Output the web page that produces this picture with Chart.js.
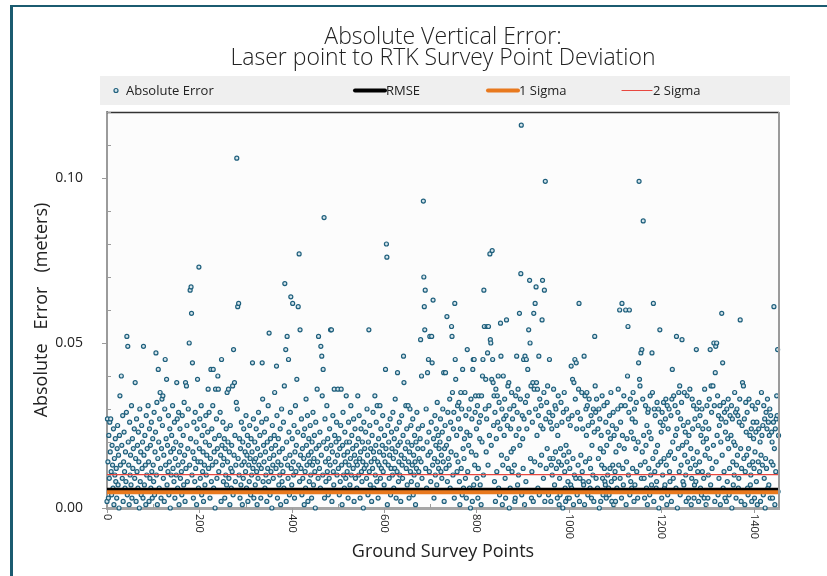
<!DOCTYPE html>
<html>
<head>
<meta charset="utf-8">
<script src="https://cdn.jsdelivr.net/npm/chart.js@4.4.1/dist/chart.umd.min.js"></script>
<style>
  html, body { margin: 0; padding: 0; background: #fff; }
  #wrap { position: relative; width: 827px; height: 576px; overflow: hidden; }
  #frame { position: absolute; left: 10px; top: 5px; right: -10px; bottom: -10px;
           border-left: 3px solid #1b5b70; border-top: 2px solid #1b5b70; }
  canvas { position: absolute; left: 0; top: 0; }
</style>
</head>
<body>
<div id="wrap"><div id="frame"></div><canvas id="chart" width="827" height="576"></canvas></div>
<script>
// ----------------------
// Data (absolute vertical error per ground survey point, in millimetres)
// ----------------------
const errorMm = [
  2, 27, 14, 3, 22, 9, 26, 17, 27, 11, 4, 19, 13, 6, 24, 1, 15, 10, 21, 8,
  12, 3, 18, 25, 7, 16, 0, 22, 34, 13, 5, 40, 19, 9, 28, 2, 14, 23, 11, 6,
  17, 8, 29, 52, 4, 49, 20, 13, 1, 26, 10, 16, 7, 31, 3, 21, 12, 18, 5, 24,
  9, 38, 15, 2, 27, 11, 19, 6, 23, 14, 0, 30, 8, 17, 4, 25, 12, 20, 3, 49,
  16, 7, 22, 13, 1, 28, 10, 18, 5, 31, 14, 2, 24, 9, 19, 6, 26, 11, 3, 21,
  13, 8, 29, 4, 17, 23, 47, 10, 32, 1, 15, 42, 20, 6, 27, 35, 12, 3, 18, 33,
  25, 34, 9, 16, 2, 30, 45, 13, 21, 39, 7, 19, 11, 28, 4, 14, 24, 0, 17, 10,
  22, 5, 31, 12, 18, 8, 26, 3, 15, 20, 10, 38, 27, 6, 13, 29, 1, 17, 24, 9,
  19, 11, 4, 28, 14, 22, 7, 32, 16, 2, 38, 12, 37, 25, 8, 18, 30, 5, 50, 13,
  66, 21, 67, 59, 10, 44, 17, 3, 26, 15, 8, 29, 12, 20, 1, 24, 39, 14, 6, 73,
  18, 27, 9, 14, 31, 4, 22, 11, 17, 2, 25, 13, 7, 20, 28, 10, 16, 5, 23, 36,
  12, 29, 19, 3, 15, 42, 8, 24, 13, 31, 42, 6, 17, 21, 0, 36, 14, 27, 9, 18,
  40, 36, 11, 22, 5, 29, 16, 2, 45, 19, 13, 26, 8, 15, 21, 3, 18, 10, 24, 7,
  35, 14, 20, 36, 9, 17, 1, 25, 12, 6, 19, 11, 37, 4, 48, 16, 38, 22, 8, 13,
  32, 106, 30, 61, 15, 62, 10, 21, 3, 18, 7, 26, 13, 1, 20, 9, 24, 14, 5, 17,
  11, 28, 6, 16, 22, 2, 19, 13, 8, 25, 15, 4, 21, 10, 17, 44, 12, 27, 3, 14,
  20, 7, 15, 24, 11, 1, 18, 9, 29, 13, 5, 22, 16, 3, 12, 26, 44, 33, 8, 19,
  14, 23, 6, 17, 10, 27, 2, 20, 12, 31, 8, 53, 15, 4, 21, 11, 18, 0, 25, 13,
  9, 16, 22, 35, 5, 19, 12, 43, 28, 3, 14, 21, 7, 17, 10, 24, 1, 13, 30, 8,
  18, 11, 26, 6, 37, 68, 15, 48, 2, 20, 52, 13, 9, 45, 23, 4, 16, 29, 64, 12,
  7, 21, 62, 14, 10, 25, 3, 17, 31, 11, 19, 39, 5, 23, 61, 13, 77, 8, 54, 16,
  12, 27, 4, 18, 9, 22, 15, 1, 24, 11, 6, 33, 19, 13, 28, 2, 16, 21, 8, 14,
  25, 10, 17, 3, 20, 13, 29, 7, 15, 22, 11, 0, 26, 18, 5, 36, 14, 9, 52, 19,
  12, 23, 6, 49, 16, 46, 34, 10, 42, 20, 88, 3, 27, 14, 8, 18, 31, 11, 21, 4,
  15, 9, 24, 13, 54, 19, 54, 2, 17, 28, 11, 7, 36, 22, 14, 5, 20, 26, 10, 16,
  36, 12, 21, 4, 18, 8, 25, 36, 13, 1, 19, 29, 10, 16, 6, 23, 14, 9, 34, 20,
  11, 17, 3, 26, 13, 20, 7, 15, 31, 10, 22, 5, 18, 12, 27, 2, 16, 24, 9, 14,
  19, 6, 13, 34, 21, 10, 28, 15, 3, 17, 24, 11, 8, 20, 14, 0, 26, 12, 18, 5,
  23, 13, 9, 30, 16, 4, 20, 54, 11, 25, 7, 18, 14, 2, 22, 12, 29, 17, 6, 15,
  34, 10, 19, 26, 8, 31, 14, 3, 21, 13, 17, 31, 9, 24, 12, 5, 19, 28, 11, 16,
  7, 22, 14, 42, 18, 80, 76, 1, 25, 13, 20, 9, 16, 27, 4, 12, 23, 18, 10, 29,
  15, 6, 21, 12, 33, 17, 3, 24, 11, 41, 19, 8, 14, 26, 10, 20, 2, 16, 28, 13,
  9, 22, 46, 38, 15, 5, 18, 31, 12, 24, 7, 20, 31, 14, 3, 17, 30, 11, 25, 8,
  19, 13, 27, 4, 16, 10, 22, 14, 1, 20, 12, 29, 7, 18, 24, 11, 15, 5, 21, 51,
  14, 40, 9, 25, 18, 93, 70, 61, 54, 66, 12, 30, 6, 20, 41, 16, 45, 23, 11, 52,
  17, 8, 26, 52, 44, 13, 63, 21, 3, 15, 28, 10, 19, 24, 7, 32, 14, 22, 12, 18,
  5, 20, 27, 11, 16, 9, 23, 30, 14, 41, 2, 18, 25, 41, 12, 19, 58, 8, 29, 15,
  21, 13, 33, 6, 26, 17, 55, 52, 35, 10, 24, 29, 3, 62, 45, 39, 16, 22, 11, 31,
  14, 27, 32, 8, 1, 24, 35, 12, 30, 4, 42, 18, 6, 15, 21, 35, 9, 28, 3, 23,
  48, 11, 5, 19, 30, 6, 22, 0, 33, 17, 27, 2, 42, 45, 7, 45, 13, 29, 34, 16,
  24, 9, 31, 3, 12, 34, 26, 21, 7, 28, 1, 34, 20, 40, 45, 10, 66, 55, 5, 30,
  39, 17, 27, 55, 47, 13, 55, 31, 22, 77, 51, 50, 19, 39, 78, 45, 38, 25, 34, 8,
  29, 2, 36, 21, 11, 34, 26, 40, 6, 32, 4, 24, 56, 46, 16, 30, 1, 13, 40, 27,
  22, 33, 9, 3, 28, 57, 15, 25, 37, 12, 38, 0, 30, 6, 24, 17, 35, 11, 27, 5,
  18, 31, 13, 2, 3, 34, 22, 46, 29, 7, 36, 10, 24, 59, 19, 33, 71, 116, 4, 28,
  21, 12, 45, 27, 1, 46, 32, 8, 45, 24, 34, 42, 5, 54, 29, 69, 50, 15, 37, 3,
  11, 26, 38, 2, 59, 36, 14, 62, 30, 67, 38, 22, 36, 6, 28, 46, 4, 33, 13, 25,
  31, 16, 57, 69, 24, 9, 35, 66, 2, 99, 27, 12, 32, 18, 37, 5, 4, 29, 45, 15,
  26, 2, 13, 24, 10, 28, 15, 36, 5, 7, 31, 17, 30, 12, 25, 3, 22, 34, 14, 1,
  9, 4, 18, 32, 13, 26, 5, 0, 29, 16, 35, 11, 6, 2, 19, 30, 14, 3, 8, 27,
  17, 3, 12, 25, 7, 43, 6, 28, 39, 15, 1, 38, 10, 45, 33, 9, 44, 24, 4, 29,
  13, 36, 62, 2, 9, 27, 16, 5, 35, 11, 24, 8, 7, 46, 1, 34, 14, 30, 22, 35,
  31, 4, 25, 8, 33, 15, 6, 12, 28, 3, 19, 26, 10, 30, 2, 23, 52, 37, 29, 9,
  33, 5, 6, 24, 15, 30, 0, 27, 18, 2, 22, 13, 34, 9, 4, 17, 31, 12, 8, 7,
  26, 3, 19, 32, 10, 23, 6, 4, 28, 12, 21, 35, 8, 2, 25, 13, 29, 1, 22, 9,
  11, 2, 17, 24, 6, 5, 30, 36, 13, 19, 60, 9, 26, 31, 3, 62, 22, 12, 7, 34,
  18, 5, 31, 60, 1, 14, 21, 40, 55, 10, 29, 60, 4, 33, 8, 23, 6, 27, 12, 35,
  21, 2, 30, 7, 26, 18, 32, 11, 5, 3, 20, 44, 99, 39, 37, 13, 47, 9, 48, 17,
  33, 87, 22, 9, 3, 14, 31, 19, 6, 25, 1, 29, 30, 12, 23, 4, 34, 10, 21, 7,
  47, 35, 15, 62, 2, 30, 11, 28, 17, 6, 8, 32, 19, 13, 30, 0, 5, 54, 26, 14,
  23, 3, 29, 10, 25, 32, 15, 6, 7, 27, 33, 13, 1, 31, 4, 24, 16, 30, 11, 8,
  17, 28, 2, 33, 42, 20, 9, 34, 5, 15, 31, 22, 6, 52, 24, 0, 29, 18, 35, 11,
  37, 4, 27, 13, 32, 51, 19, 8, 25, 7, 35, 16, 23, 10, 2, 20, 34, 14, 26, 3,
  22, 5, 36, 12, 18, 1, 9, 33, 24, 15, 31, 3, 7, 27, 13, 8, 48, 30, 17, 11,
  25, 2, 32, 14, 28, 6, 22, 4, 30, 11, 24, 20, 9, 3, 36, 16, 26, 1, 21, 31,
  18, 3, 10, 24, 33, 15, 48, 7, 37, 29, 12, 5, 37, 19, 50, 31, 2, 41, 49, 14,
  50, 22, 34, 4, 28, 9, 25, 31, 1, 20, 27, 59, 16, 44, 6, 32, 11, 29, 3, 23,
  26, 2, 30, 8, 21, 33, 18, 4, 12, 28, 5, 22, 31, 0, 27, 14, 7, 20, 10, 35,
  19, 29, 3, 13, 30, 16, 28, 6, 9, 26, 33, 57, 18, 2, 12, 25, 38, 5, 37, 15,
  27, 1, 11, 32, 23, 16, 29, 6, 4, 18, 33, 13, 22, 7, 10, 24, 2, 31, 14, 26,
  21, 12, 3, 17, 30, 23, 8, 26, 1, 32, 14, 24, 5, 11, 20, 2, 16, 35, 22, 13,
  25, 4, 31, 9, 27, 0, 15, 29, 12, 24, 33, 6, 26, 7, 22, 30, 3, 28, 14, 23,
  20, 3, 13, 26, 61, 18, 1, 24, 11, 27, 34, 28, 48, 5, 22
];

const seriesNames = ["Absolute Error", "RMSE", "1 Sigma", "2 Sigma"];
const statValues = [0.0055, 0.0048, 0.0101];   // RMSE, 1 Sigma, 2 Sigma (meters)
const yTickLabels = [0, 0.05, 0.10];
const xTickLabels = [0, 200, 400, 600, 800, 1000, 1200, 1400];
const xMax = 1455;
const yMax = 0.12;

const FONT = '"Open Sans", "DejaVu Sans", sans-serif';
Chart.defaults.font.family = FONT;
Chart.defaults.color = "#222";

// ----------------------
// Helper plugin: plot background, frame lines, ticks, rotated x labels, legend strip
// ----------------------
const decorations = {
  id: "decorations",
  beforeDraw(chart) {
    const { ctx, chartArea: a } = chart;
    ctx.save();
    ctx.fillStyle = "#fcfcfc";
    ctx.fillRect(a.left, a.top, a.right - a.left, a.bottom - a.top);
    // legend strip
    ctx.fillStyle = "#efefef";
    ctx.fillRect(a.left - 7, a.top - 36, (a.right - a.left) + 18, 29);
    ctx.restore();
  },
  afterDraw(chart) {
    const { ctx, chartArea: a, scales: { x, y } } = chart;
    ctx.save();

    // top + right frame
    ctx.strokeStyle = "#333";
    ctx.lineWidth = 1.5;
    ctx.beginPath();
    ctx.moveTo(a.left, a.top + 0.5); ctx.lineTo(a.right, a.top + 0.5);
    ctx.stroke();
    ctx.strokeStyle = "#9b9b9b";
    ctx.lineWidth = 2;
    ctx.beginPath();
    ctx.moveTo(a.right, a.top); ctx.lineTo(a.right, a.bottom);
    ctx.stroke();

    // y ticks: majors outside, minors inside
    ctx.strokeStyle = "#9b9b9b";
    ctx.lineWidth = 1;
    y.ticks.forEach(t => {
      const py = Math.round(y.getPixelForValue(t.value)) + 0.5;
      const major = yTickLabels.some(v => Math.abs(v - t.value) < 1e-6);
      ctx.beginPath();
      if (major) { ctx.moveTo(a.left - 5, py); ctx.lineTo(a.left, py); }
      else { ctx.moveTo(a.left, py); ctx.lineTo(a.left + 4, py); }
      ctx.stroke();
    });

    // x ticks + rotated labels
    ctx.fillStyle = "#222";
    ctx.font = "11px " + FONT;
    ctx.textAlign = "left";
    ctx.textBaseline = "middle";
    x.ticks.forEach(t => {
      const px = Math.round(x.getPixelForValue(t.value)) + 0.5;
      const major = xTickLabels.includes(t.value);
      ctx.beginPath();
      if (major) { ctx.moveTo(px, a.bottom); ctx.lineTo(px, a.bottom + 5); }
      else { ctx.moveTo(px, a.bottom); ctx.lineTo(px, a.bottom - 4); }
      ctx.stroke();
      if (major) {
        ctx.save();
        ctx.translate(px, a.bottom + 6);
        ctx.rotate(Math.PI / 2);
        ctx.fillText(String(t.value), 0, 0);
        ctx.restore();
      }
    });

    // legend entries
    const ds = chart.data.datasets;
    const midY = a.top - 21.5;
    const slots = [9, 248, 381, 515];
    ctx.font = "13px " + FONT;
    ctx.fillStyle = "#222";
    ds.forEach((d, i) => {
      const sx = a.left + slots[i];
      if (i === 0) {
        ctx.beginPath();
        ctx.arc(sx, midY, 2, 0, Math.PI * 2);
        ctx.fillStyle = d.backgroundColor;
        ctx.fill();
        ctx.strokeStyle = d.borderColor;
        ctx.lineWidth = 1.2;
        ctx.stroke();
        ctx.fillStyle = "#222";
        ctx.fillText(d.label, sx + 10, midY + 0.5);
      } else {
        ctx.strokeStyle = d.borderColor;
        ctx.lineWidth = d.borderWidth;
        ctx.lineCap = "round";
        ctx.beginPath();
        ctx.moveTo(sx, midY); ctx.lineTo(sx + 30, midY);
        ctx.stroke();
        ctx.fillStyle = "#222";
        ctx.fillText(d.label, sx + 31, midY + 0.5);
      }
    });
    ctx.restore();
  }
};

function statLine(value) {
  return [{ x: 0, y: value }, { x: xMax, y: value }];
}

const ctx = document.getElementById("chart").getContext("2d");
const chart = new Chart(ctx, {
  type: "scatter",
  data: {
    datasets: [
      {
        label: seriesNames[0],
        data: errorMm.map((mm, i) => ({ x: i, y: mm / 1000 })),
        pointRadius: 2,
        pointBorderWidth: 1.2,
        borderColor: "#1e5f7c",
        backgroundColor: "#d4e4eb",
        order: 4,
        clip: { left: 3, right: 3, top: 0, bottom: 3 }
      },
      {
        type: "line", label: seriesNames[1], data: statLine(statValues[0]),
        borderColor: "#000", borderWidth: 4, pointRadius: 0, order: 2
      },
      {
        type: "line", label: seriesNames[2], data: statLine(statValues[1]),
        borderColor: "#e8791e", borderWidth: 4, pointRadius: 0, order: 1
      },
      {
        type: "line", label: seriesNames[3], data: statLine(statValues[2]),
        borderColor: "#e8473f", borderWidth: 1.2, pointRadius: 0, order: 3
      }
    ]
  },
  options: {
    responsive: false,
    animation: false,
    devicePixelRatio: 1,
    layout: { padding: { left: 0, right: 48, top: 0, bottom: 0 } },
    plugins: {
      legend: { display: false },
      tooltip: { enabled: false },
      title: {
        display: true,
        fullSize: false,
        text: ["Absolute Vertical Error:", "Laser point to RTK Survey Point Deviation"],
        color: "#222",
        font: { size: 23, weight: "300", lineHeight: 0.913 },
        padding: { top: 26.5, bottom: 43.5 }
      }
    },
    scales: {
      x: {
        type: "linear",
        min: 0, max: xMax,
        ticks: { display: false, stepSize: 100, includeBounds: false },
        grid: { display: false, drawTicks: false },
        border: { color: "#a5a5a5", width: 3 },
        title: {
          display: true, text: "Ground Survey Points", color: "#222",
          font: { size: 18, lineHeight: 1.2 }, padding: { top: 0, bottom: 13.2 }
        },
        afterFit: s => { s.height = 68; }
      },
      y: {
        min: 0, max: yMax,
        ticks: {
          stepSize: 0.01,
          includeBounds: false,
          padding: 24,
          color: "#222",
          font: { size: 14 },
          callback: v => yTickLabels.some(t => Math.abs(t - v) < 1e-6) ? v.toFixed(2) : ""
        },
        grid: { display: false, drawTicks: false },
        border: { color: "#9b9b9b", width: 2 },
        title: {
          display: true, text: "Absolute   Error   (meters)", color: "#222",
          font: { size: 18, lineHeight: 1.2 }, padding: { top: 31.2, bottom: 0 }
        },
        afterFit: s => { s.width = 107; }
      }
    }
  },
  plugins: [decorations]
});
</script>
</body>
</html>
